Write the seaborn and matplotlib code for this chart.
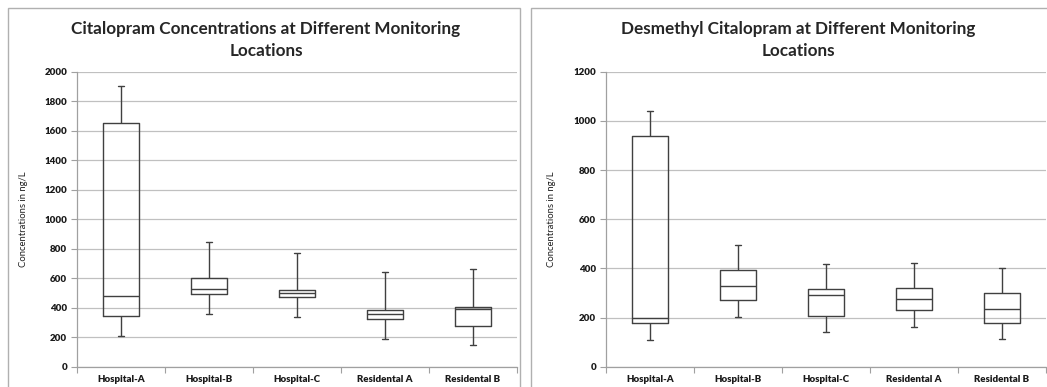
import numpy as np
import pandas as pd
import matplotlib
matplotlib.use("Agg")
import matplotlib.pyplot as plt
import seaborn as sns
from matplotlib.patches import Rectangle

locations = ["Hospital-A", "Hospital-B", "Hospital-C", "Residental A", "Residental B"]

# five-number summaries: [min, Q1, median, Q3, max]
cit_min = [210, 355, 337, 188, 145]
cit_q1 = [342, 491, 470, 321, 276]
cit_med = [480, 530, 497, 355, 392]
cit_q3 = [1650, 598, 517, 386, 407]
cit_max = [1900, 846, 768, 640, 660]

des_min = [107, 202, 140, 163, 111]
des_q1 = [178, 271, 206, 229, 178]
des_med = [198, 330, 293, 277, 236]
des_q3 = [940, 393, 317, 321, 299]
des_max = [1042, 496, 418, 423, 400]

titles = ["Citalopram Concentrations at Different Monitoring\nLocations",
          "Desmethyl Citalopram at Different Monitoring\nLocations"]
ylabel = "Concentrations in ng/L"
ylims = [(0, 2000), (0, 1200)]
yticks = [np.arange(0, 2001, 200), np.arange(0, 1201, 200)]


def long_frame(mn, q1, md, q3, mx):
    rows = []
    for i, loc in enumerate(locations):
        for v in (mn[i], q1[i], md[i], q3[i], mx[i]):
            rows.append({"Location": loc, "Value": v})
    return pd.DataFrame(rows)


frames = [long_frame(cit_min, cit_q1, cit_med, cit_q3, cit_max),
          long_frame(des_min, des_q1, des_med, des_q3, des_max)]

sns.set_theme(style="white")
plt.rcParams["font.family"] = ["Lato", "DejaVu Sans"]

fig = plt.figure(figsize=(10.47, 3.87), dpi=100)

# panel borders
fig.patches.append(Rectangle((8 / 1047, -0.01), (520 - 8) / 1047, (387 - 8) / 387 + 0.01,
                             transform=fig.transFigure, fill=False, edgecolor="#b0b0b0", lw=1))
fig.patches.append(Rectangle((531 / 1047, -0.01), (1060 - 531) / 1047, (387 - 8) / 387 + 0.01,
                             transform=fig.transFigure, fill=False, edgecolor="#b0b0b0", lw=1))

axes_pos = [[77 / 1047, 20.3 / 387, 440 / 1047, 295 / 387],
            [606 / 1047, 20.3 / 387, 440 / 1047, 295 / 387]]
title_x = [266 / 1047, 798 / 1047]
ylabel_x = [24 / 1047, 552 / 1047]

line_col = "#404040"
tick_font = dict(fontsize=7, fontweight="heavy", color="#1a1a1a")
for k in range(2):
    ax = fig.add_axes(axes_pos[k])
    sns.boxplot(data=frames[k], x="Location", y="Value", ax=ax, whis=(0, 100),
                width=0.41, fill=False, color=line_col, linewidth=1.0,
                showcaps=True, showfliers=False)
    ax.set_ylim(*ylims[k])
    ax.set_xlim(-0.5, 4.5)
    ax.set_yticks(yticks[k])
    ax.set_yticklabels([str(int(v)) for v in yticks[k]], **tick_font)
    ax.set_xticks(range(5))
    ax.set_xticklabels(locations, **tick_font)
    ax.set_xticks(np.arange(-0.5, 5.0, 1.0), minor=True)
    ax.tick_params(axis="x", which="major", length=0, pad=6)
    ax.tick_params(axis="x", which="minor", length=4, color="#a0a0a0", width=0.8, direction="out", bottom=True)
    ax.tick_params(axis="y", length=4, color="#a0a0a0", width=0.8, direction="out", left=True, pad=3)
    ax.yaxis.grid(True, color="#c0c0c0", lw=0.9)
    ax.set_axisbelow(True)
    for s in ["top", "right"]:
        ax.spines[s].set_visible(False)
    for s in ["left", "bottom"]:
        ax.spines[s].set_color("#a0a0a0")
        ax.spines[s].set_linewidth(0.9)
    ax.set_xlabel("")
    ax.set_ylabel("")
    fig.text(ylabel_x[k], (20.3 + 295 / 2) / 387, ylabel, rotation=90, fontsize=6.8,
             ha="center", va="center", color="#202020")
    fig.text(title_x[k], 1 - 40 / 387, titles[k], fontsize=12.3, fontweight="bold",
             ha="center", va="center", color="#262626", linespacing=1.5)
    # shorten the caps
    for line in ax.lines:
        xd = line.get_xdata()
        if len(xd) == 2 and xd[0] != xd[1]:
            yd = line.get_ydata()
            if yd[0] == yd[1] and (xd[1] - xd[0]) < 0.3:
                c = (xd[0] + xd[1]) / 2
                line.set_xdata([c - 0.03, c + 0.03])

fig.savefig("out.png", dpi=100)
